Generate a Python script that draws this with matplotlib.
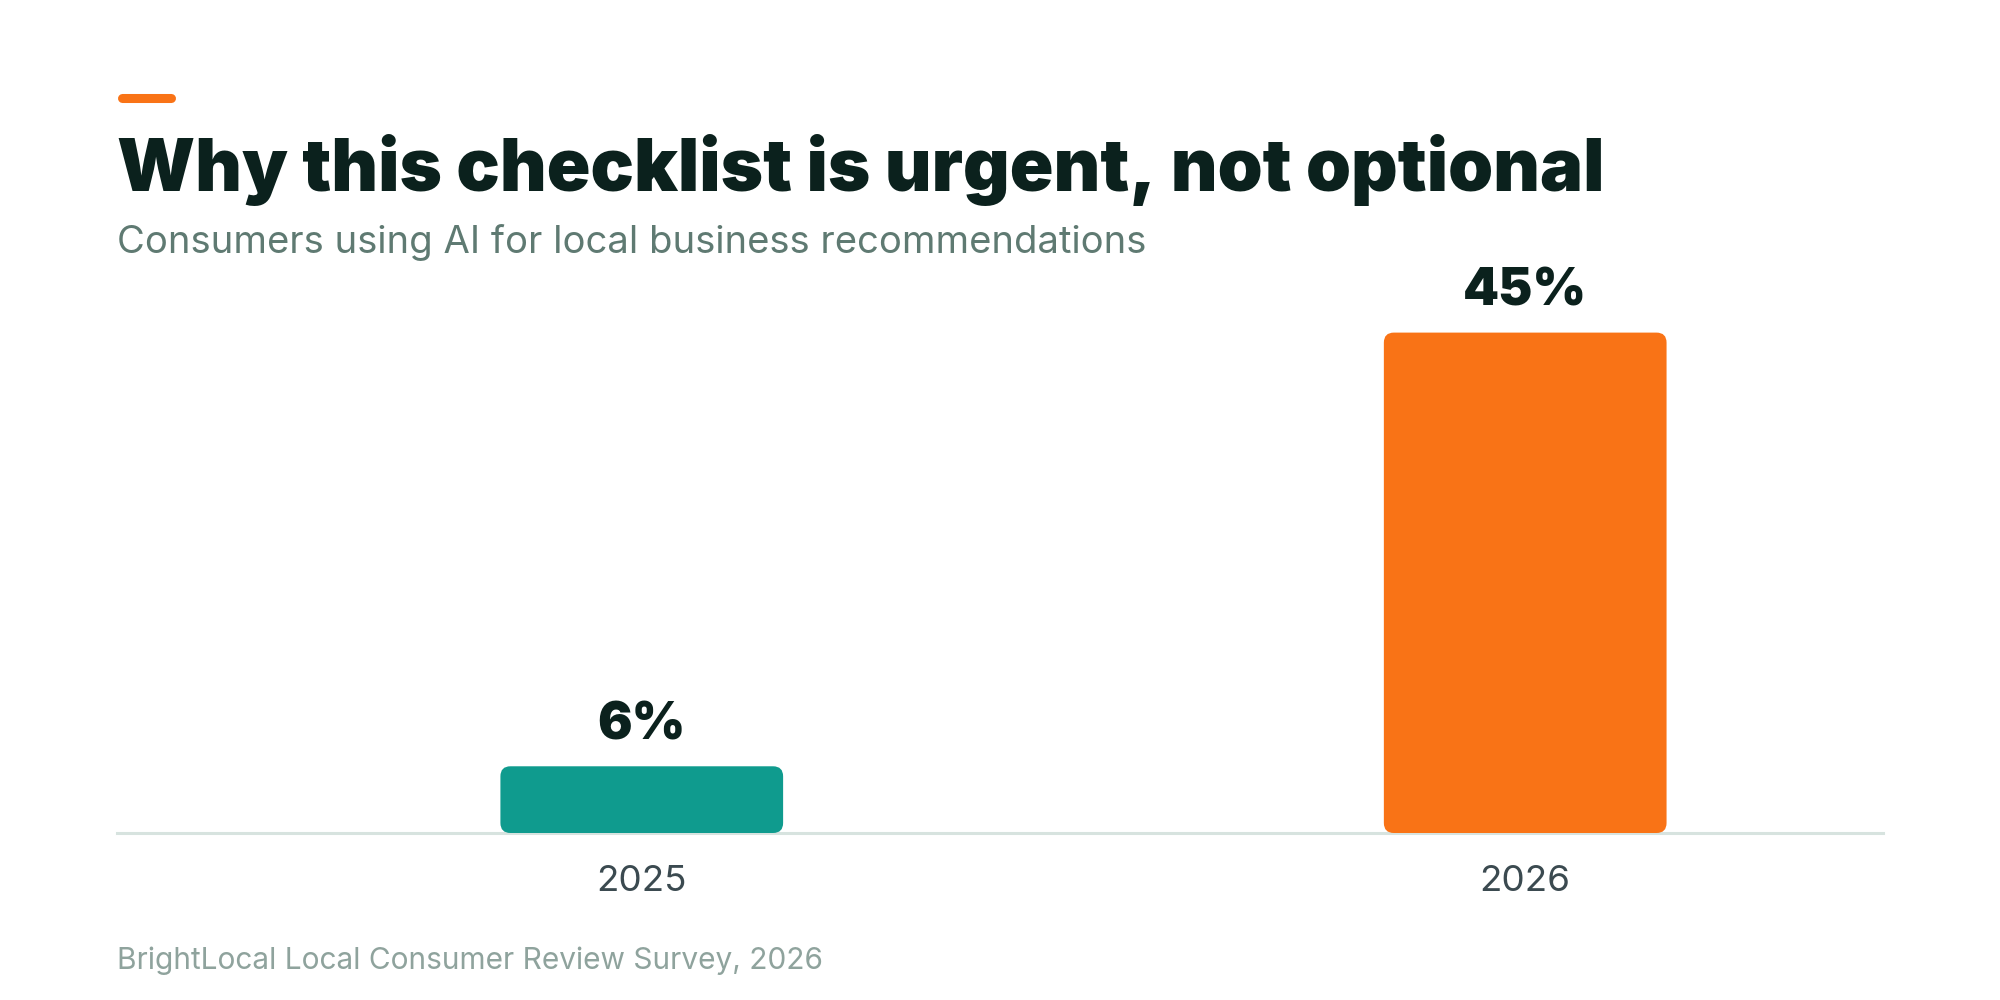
import matplotlib.pyplot as plt
from matplotlib.patches import FancyBboxPatch
from matplotlib.lines import Line2D

# ─── DATA ────────────────────────────────────────────────────
years = ['2025', '2026']
share = [6, 45]
bar_colors = ['#0f9b8e', '#f97316']

TITLE = 'Why this checklist is urgent, not optional'
SUBTITLE = 'Consumers using AI for local business recommendations'
SOURCE = 'BrightLocal Local Consumer Review Survey, 2026'

# ─── STYLE ───────────────────────────────────────────────────
plt.rcParams['font.family'] = ['Inter', 'DejaVu Sans']
DARK = '#0b211d'

W, H, DPI = 20, 10, 100
fig = plt.figure(figsize=(W, H), dpi=DPI, facecolor='white')
ax = fig.add_axes([0.0585, 0.167, 0.883, 0.556])

x = list(range(len(years)))
bar_w = 0.32
ax.set_xlim(-0.594, 1.405)
ax.set_ylim(0, 50)

# px per data unit, used to keep corners circular
ax_px_w = 0.883 * W * DPI
ax_px_h = 0.556 * H * DPI
px_x = ax_px_w / (1.405 + 0.594)
px_y = ax_px_h / 50
radius_px = 10

for xi, v, c in zip(x, share, bar_colors):
    box = FancyBboxPatch((xi - bar_w / 2, 0), bar_w, v,
                         boxstyle=f'round,pad=0,rounding_size={radius_px / px_x}',
                         mutation_aspect=px_x / px_y,
                         facecolor=c, edgecolor='none', zorder=3)
    ax.add_patch(box)
    ax.annotate(f'{v}%', (xi, v), xytext=(0, 19.5), textcoords='offset points',
                ha='center', va='baseline', fontsize=37, fontweight='black',
                color=DARK, zorder=4)

ax.axhline(0, color='#d7e3df', lw=2.2, zorder=2, clip_on=False)

for s in ax.spines.values():
    s.set_visible(False)
ax.set_yticks([])
ax.set_xticks(x, years)
ax.tick_params(axis='x', length=0, pad=23, labelsize=26.5, labelcolor='#3b4a50')
ax.set_facecolor('none')

# ─── TEXTS ───────────────────────────────────────────────────
fig.add_artist(Line2D([0.0608, 0.0857], [0.9025, 0.9025], lw=6.5,
                      color='#f97316', solid_capstyle='round'))
fig.text(0.0585, 0.809, TITLE, fontsize=52, fontweight='black',
         color=DARK, va='baseline', ha='left')
fig.text(0.0585, 0.747, SUBTITLE, fontsize=27.5, color='#5f7a72',
         va='baseline', ha='left')
fig.text(0.0585, 0.031, SOURCE, fontsize=21.5, color='#8fa39d',
         va='baseline', ha='left')

fig.savefig('out.png', dpi=DPI, facecolor='white')
